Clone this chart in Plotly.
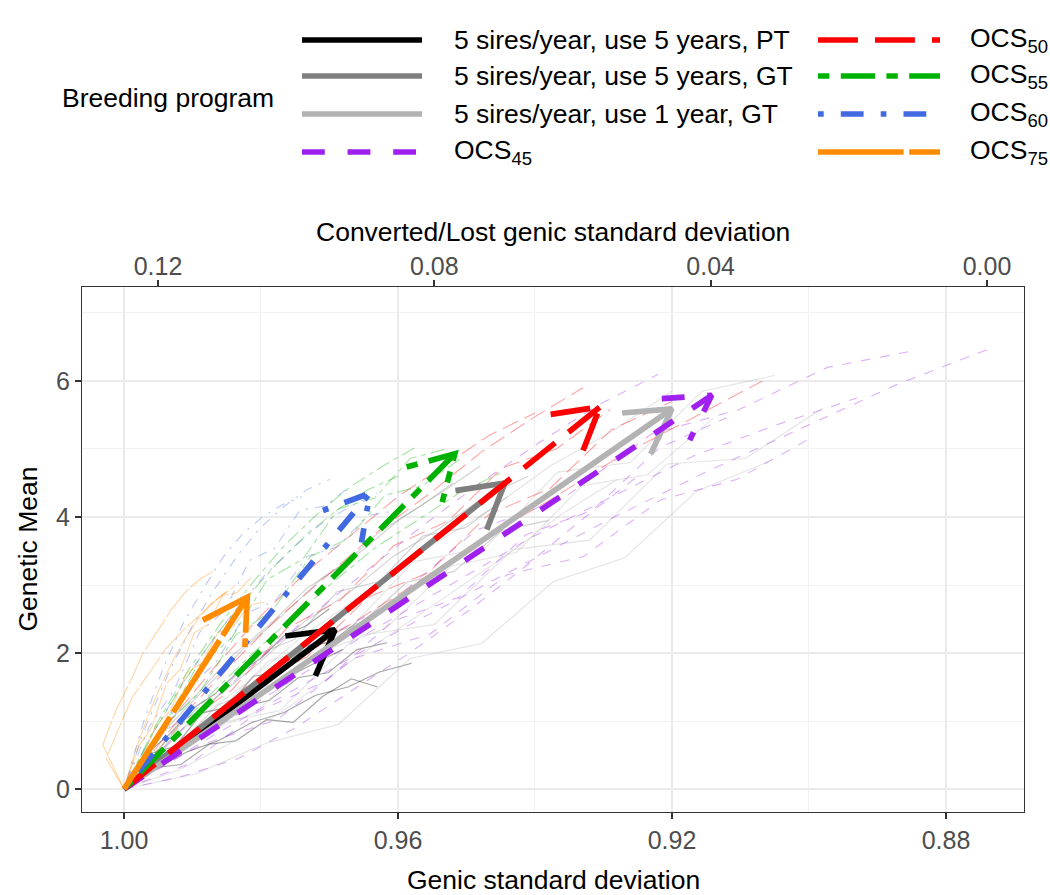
import math
import plotly.graph_objects as go

# ---------------- data ----------------
programs = [
    "5 sires/year, use 5 years, PT",
    "5 sires/year, use 5 years, GT",
    "5 sires/year, use 1 year, GT",
    "OCS<sub>45</sub>",
    "OCS<sub>50</sub>",
    "OCS<sub>55</sub>",
    "OCS<sub>60</sub>",
    "OCS<sub>75</sub>",
]
colors = ["#000000", "#7F7F7F", "#B3B3B3", "#A020F0", "#FF0000", "#00B200", "#4169E1", "#FF8C00"]
linetypes = ["", "", "", "44", "73", "2262", "1343", "F1"]

start_x = 1.0
start_y = 0.0
end_x = [0.9692, 0.9444, 0.9200, 0.9142, 0.9305, 0.9517, 0.9641, 0.9820]
end_y = [2.34, 4.50, 5.59, 5.79, 5.62, 4.93, 4.35, 2.82]

# replicate trajectories (genic sd, genetic mean)
rep_x_PT = [
    [1.0, 0.9958, 0.9917, 0.9875, 0.9836, 0.9792, 0.9753, 0.9710, 0.9668, 0.9630],
    [1.0, 0.9957, 0.9915, 0.9871, 0.9829, 0.9788, 0.9745, 0.9702, 0.9660, 0.9616],
    [1.0, 0.9962, 0.9925, 0.9886, 0.9849, 0.9811, 0.9774, 0.9735, 0.9698, 0.9660],
    [1.0, 0.9967, 0.9934, 0.9900, 0.9867, 0.9834, 0.9800, 0.9767, 0.9734, 0.9700],
    [1.0, 0.9953, 0.9907, 0.9860, 0.9813, 0.9767, 0.9720, 0.9673, 0.9627, 0.9580],
    [1.0, 0.9964, 0.9929, 0.9893, 0.9858, 0.9822, 0.9787, 0.9751, 0.9716, 0.9680],
]
rep_y_PT = [
    [0.0, 0.31, 0.36, 0.66, 0.71, 1.02, 0.98, 1.36, 1.62, 1.50],
    [0.0, 0.33, 0.70, 0.85, 1.21, 1.30, 1.64, 1.71, 2.05, 2.15],
    [0.0, 0.52, 0.63, 1.12, 1.20, 1.66, 1.71, 2.10, 2.16, 2.45],
    [0.0, 0.52, 0.80, 1.18, 1.40, 1.72, 1.92, 2.25, 2.40, 2.65],
    [0.0, 0.30, 0.55, 0.72, 0.98, 1.12, 1.38, 1.50, 1.72, 1.85],
    [0.0, 0.38, 0.58, 0.86, 1.05, 1.32, 1.48, 1.70, 1.88, 2.05],
]
rep_x_GT5 = [
    [1.0, 0.9938, 0.9876, 0.9813, 0.9751, 0.9689, 0.9627, 0.9564, 0.9502, 0.9440],
    [1.0, 0.9942, 0.9884, 0.9827, 0.9769, 0.9711, 0.9653, 0.9596, 0.9538, 0.9480],
    [1.0, 0.9931, 0.9862, 0.9793, 0.9724, 0.9656, 0.9587, 0.9518, 0.9449, 0.9380],
    [1.0, 0.9947, 0.9893, 0.9840, 0.9787, 0.9733, 0.9680, 0.9627, 0.9573, 0.9520],
    [1.0, 0.9934, 0.9869, 0.9803, 0.9738, 0.9672, 0.9607, 0.9541, 0.9476, 0.9410],
]
rep_y_GT5 = [
    [0.0, 0.88, 1.22, 1.95, 2.20, 2.90, 3.05, 3.72, 3.84, 4.30],
    [0.0, 0.85, 1.45, 2.05, 2.55, 3.10, 3.50, 3.98, 4.35, 4.75],
    [0.0, 0.55, 1.24, 1.52, 2.22, 2.42, 3.04, 3.20, 3.80, 3.95],
    [0.0, 0.88, 1.40, 1.98, 2.42, 2.95, 3.30, 3.78, 4.12, 4.50],
    [0.0, 0.70, 1.32, 1.85, 2.45, 2.88, 3.42, 3.82, 4.28, 4.60],
]
rep_x_GT1 = [
    [1.0, 0.9896, 0.9791, 0.9687, 0.9582, 0.9478, 0.9373, 0.9269, 0.9164, 0.9060],
    [1.0, 0.9887, 0.9773, 0.9660, 0.9547, 0.9433, 0.9320, 0.9207, 0.9093, 0.8980],
    [1.0, 0.9894, 0.9789, 0.9683, 0.9578, 0.9472, 0.9367, 0.9261, 0.9156, 0.9050],
    [1.0, 0.9904, 0.9809, 0.9713, 0.9618, 0.9522, 0.9427, 0.9331, 0.9236, 0.9140],
    [1.0, 0.9911, 0.9822, 0.9733, 0.9644, 0.9556, 0.9467, 0.9378, 0.9289, 0.9200],
    [1.0, 0.9920, 0.9840, 0.9760, 0.9680, 0.9600, 0.9520, 0.9440, 0.9360, 0.9280],
]
rep_y_GT1 = [
    [0.0, 0.22, 0.68, 0.95, 1.92, 2.14, 3.05, 3.40, 4.38, 4.81],
    [0.0, 0.92, 1.15, 2.25, 2.42, 3.52, 3.66, 4.78, 4.86, 5.60],
    [0.0, 0.82, 1.88, 2.22, 3.34, 3.55, 4.66, 4.80, 5.85, 6.08],
    [0.0, 0.74, 1.12, 2.02, 2.36, 3.28, 3.48, 4.46, 4.62, 5.45],
    [0.0, 0.90, 1.55, 2.30, 2.90, 3.55, 4.10, 4.75, 5.25, 5.85],
    [0.0, 0.28, 0.70, 1.20, 1.80, 2.35, 2.90, 3.45, 4.05, 4.55],
]
rep_x_OCS45 = [
    [1.0, 0.9872, 0.9743, 0.9615, 0.9487, 0.9358, 0.9230, 0.9102, 0.8973, 0.8845],
    [1.0, 0.9881, 0.9762, 0.9643, 0.9524, 0.9405, 0.9287, 0.9168, 0.9049, 0.8930],
    [1.0, 0.9888, 0.9776, 0.9665, 0.9553, 0.9441, 0.9329, 0.9217, 0.9106, 0.8994],
    [1.0, 0.9859, 0.9718, 0.9577, 0.9436, 0.9294, 0.9153, 0.9012, 0.8871, 0.8730],
    [1.0, 0.9902, 0.9804, 0.9707, 0.9609, 0.9511, 0.9413, 0.9316, 0.9218, 0.9120],
    [1.0, 0.9913, 0.9827, 0.9740, 0.9653, 0.9567, 0.9480, 0.9393, 0.9307, 0.9220],
    [1.0, 0.9917, 0.9833, 0.9750, 0.9667, 0.9583, 0.9500, 0.9417, 0.9333, 0.9250],
]
rep_y_OCS45 = [
    [0.0, 0.95, 2.05, 2.70, 3.80, 4.28, 5.22, 5.58, 6.20, 6.45],
    [0.0, 0.80, 1.55, 2.30, 3.00, 3.70, 4.30, 4.90, 5.35, 5.75],
    [0.0, 0.65, 1.02, 1.92, 2.28, 3.15, 3.42, 4.25, 4.55, 5.18],
    [0.0, 0.85, 1.65, 2.45, 3.20, 3.95, 4.65, 5.30, 5.95, 6.50],
    [0.0, 0.38, 1.14, 1.58, 2.46, 2.82, 3.74, 4.10, 5.02, 5.46],
    [0.0, 0.90, 1.70, 2.45, 3.15, 3.85, 4.50, 5.10, 5.65, 6.10],
    [0.0, 0.18, 0.45, 0.90, 1.45, 2.00, 2.60, 3.25, 3.95, 4.60],
]
rep_x_OCS50 = [
    [1.0, 0.9921, 0.9842, 0.9763, 0.9684, 0.9606, 0.9527, 0.9448, 0.9369, 0.9290],
    [1.0, 0.9926, 0.9851, 0.9777, 0.9702, 0.9628, 0.9553, 0.9479, 0.9404, 0.9330],
    [1.0, 0.9911, 0.9822, 0.9733, 0.9644, 0.9556, 0.9467, 0.9378, 0.9289, 0.9200],
    [1.0, 0.9933, 0.9867, 0.9800, 0.9733, 0.9667, 0.9600, 0.9533, 0.9467, 0.9400],
    [1.0, 0.9896, 0.9793, 0.9689, 0.9585, 0.9482, 0.9378, 0.9275, 0.9171, 0.9068],
]
rep_y_OCS50 = [
    [0.0, 0.92, 1.46, 2.36, 2.78, 3.58, 3.94, 4.72, 5.00, 5.58],
    [0.0, 0.95, 1.75, 2.50, 3.15, 3.80, 4.35, 4.95, 5.45, 5.90],
    [0.0, 0.62, 1.50, 1.94, 2.82, 3.18, 4.04, 4.42, 5.28, 5.70],
    [0.0, 1.00, 1.80, 2.55, 3.20, 3.75, 4.30, 4.75, 5.20, 5.53],
    [0.0, 0.80, 1.55, 2.30, 2.95, 3.65, 4.25, 4.90, 5.45, 6.00],
]
rep_x_OCS55 = [
    [1.0, 0.9953, 0.9906, 0.9858, 0.9811, 0.9764, 0.9717, 0.9669, 0.9622, 0.9575],
    [1.0, 0.9946, 0.9891, 0.9837, 0.9782, 0.9728, 0.9673, 0.9619, 0.9564, 0.9510],
    [1.0, 0.9939, 0.9878, 0.9817, 0.9756, 0.9694, 0.9633, 0.9572, 0.9511, 0.9450],
    [1.0, 0.9948, 0.9896, 0.9843, 0.9791, 0.9739, 0.9687, 0.9634, 0.9582, 0.9530],
    [1.0, 0.9956, 0.9911, 0.9867, 0.9822, 0.9778, 0.9733, 0.9689, 0.9644, 0.9600],
]
rep_y_OCS55 = [
    [0.0, 0.95, 1.75, 2.45, 3.05, 3.60, 4.05, 4.45, 4.75, 5.02],
    [0.0, 0.88, 1.40, 2.26, 2.64, 3.42, 3.68, 4.32, 4.46, 4.85],
    [0.0, 0.70, 1.35, 1.95, 2.50, 3.05, 3.55, 3.95, 4.35, 4.65],
    [0.0, 0.82, 1.76, 2.22, 3.08, 3.38, 4.12, 4.28, 4.86, 5.00],
    [0.0, 0.85, 1.60, 2.25, 2.80, 3.30, 3.75, 4.10, 4.40, 4.60],
]
rep_x_OCS60 = [
    [1.0, 0.9963, 0.9927, 0.9890, 0.9853, 0.9817, 0.9780, 0.9743, 0.9707, 0.9670],
    [1.0, 0.9967, 0.9933, 0.9900, 0.9867, 0.9833, 0.9800, 0.9767, 0.9733, 0.9700],
    [1.0, 0.9956, 0.9911, 0.9867, 0.9822, 0.9778, 0.9733, 0.9689, 0.9644, 0.9600],
    [1.0, 0.9959, 0.9918, 0.9877, 0.9836, 0.9794, 0.9753, 0.9712, 0.9671, 0.9630],
    [1.0, 0.9971, 0.9942, 0.9913, 0.9884, 0.9856, 0.9827, 0.9798, 0.9769, 0.9740],
]
rep_y_OCS60 = [
    [0.0, 0.92, 1.45, 2.30, 2.62, 3.36, 3.54, 4.10, 4.16, 4.45],
    [0.0, 0.95, 1.75, 2.40, 2.95, 3.45, 3.85, 4.15, 4.40, 4.55],
    [0.0, 0.62, 1.46, 1.84, 2.58, 2.78, 3.42, 3.56, 4.02, 4.10],
    [0.0, 0.80, 1.50, 2.10, 2.65, 3.15, 3.55, 3.90, 4.15, 4.35],
    [0.0, 1.00, 1.80, 2.45, 2.95, 3.40, 3.75, 4.00, 4.18, 4.30],
]
rep_x_OCS75 = [
    [1.0, 0.9979, 0.9959, 0.9938, 0.9918, 0.9897, 0.9877, 0.9856, 0.9836, 0.9815],
    [1.0, 1.0026, 1.0005, 0.9988, 0.9960, 0.9940, 0.9912, 0.9890, 0.9870, 0.9850],
    [1.0, 0.9977, 0.9954, 0.9932, 0.9909, 0.9886, 0.9863, 0.9841, 0.9818, 0.9795],
    [1.0, 1.0031, 1.0012, 0.9990, 0.9972, 0.9950, 0.9930, 0.9910, 0.9890, 0.9870],
    [1.0, 0.9982, 0.9964, 0.9946, 0.9928, 0.9910, 0.9892, 0.9874, 0.9856, 0.9838],
]
rep_y_OCS75 = [
    [0.0, 0.62, 0.92, 1.55, 1.76, 2.30, 2.42, 2.85, 2.88, 3.10],
    [0.0, 0.45, 0.95, 1.35, 1.75, 2.05, 2.35, 2.55, 2.75, 2.90],
    [0.0, 0.38, 0.92, 1.16, 1.70, 1.86, 2.30, 2.38, 2.70, 2.75],
    [0.0, 0.65, 1.15, 1.60, 2.00, 2.35, 2.65, 2.90, 3.08, 3.20],
    [0.0, 0.60, 1.10, 1.52, 1.90, 2.22, 2.50, 2.70, 2.86, 2.98],
]
rep_x = [rep_x_PT, rep_x_GT5, rep_x_GT1, rep_x_OCS45, rep_x_OCS50, rep_x_OCS55, rep_x_OCS60, rep_x_OCS75]
rep_y = [rep_y_PT, rep_y_GT5, rep_y_GT1, rep_y_OCS45, rep_y_OCS50, rep_y_OCS55, rep_y_OCS60, rep_y_OCS75]

x_ticks = [1.00, 0.96, 0.92, 0.88]
x_tick_labels = ["1.00", "0.96", "0.92", "0.88"]
x2_ticks = [0.12, 0.08, 0.04, 0.00]
x2_tick_labels = ["0.12", "0.08", "0.04", "0.00"]
y_ticks = [0, 2, 4, 6]
y_tick_labels = ["0", "2", "4", "6"]

# ---------------- layout geometry ----------------
W, H = 1050, 895
L, R, T, B = 82, 26, 287, 83
PW, PH = W - L - R, H - T - B
X_RANGE = [1.00613, 0.86861]
X2_RANGE = [0.1310, -0.00536]
Y_RANGE = [-0.338, 7.382]
FONT = "Liberation Sans, Arial, Helvetica, sans-serif"
LW = 5.7
THIN = 1.1
TXT = 26.5


def dash(pattern, unit):
    if not pattern:
        return "solid"
    return ",".join(f"{int(c, 16) * unit:.1f}px" for c in pattern)


def to_px(x, y):
    px = L + (X_RANGE[0] - x) / (X_RANGE[0] - X_RANGE[1]) * PW
    py = T + (Y_RANGE[1] - y) / (Y_RANGE[1] - Y_RANGE[0]) * PH
    return px, py


def from_px(px, py):
    x = X_RANGE[0] - (px - L) / PW * (X_RANGE[0] - X_RANGE[1])
    y = Y_RANGE[1] - (py - T) / PH * (Y_RANGE[1] - Y_RANGE[0])
    return x, y


def px_paper(px, py):
    return (px - L) / PW, (H - B - py) / PH


fig = go.Figure()

# replicate trajectories
for i in range(len(programs)):
    for xs, ys in zip(rep_x[i], rep_y[i]):
        fig.add_trace(go.Scatter(
            x=xs, y=ys, mode="lines", showlegend=False, hoverinfo="skip",
            opacity=0.35,
            line=dict(color=colors[i], width=THIN, dash=dash(linetypes[i], 2.4)),
        ))

# mean arrows
HEAD = 50.0
ANG = math.radians(30)
for i in range(len(programs)):
    d = dash(linetypes[i], LW)
    fig.add_trace(go.Scatter(
        x=[start_x, end_x[i]], y=[start_y, end_y[i]], mode="lines",
        showlegend=False, hoverinfo="skip",
        line=dict(color=colors[i], width=LW, dash=d),
    ))
    tx, ty = to_px(end_x[i], end_y[i])
    ox, oy = to_px(start_x, start_y)
    ux, uy = ox - tx, oy - ty
    n = math.hypot(ux, uy)
    ux, uy = ux / n, uy / n
    arms = []
    for a in (ANG, -ANG):
        rx = ux * math.cos(a) - uy * math.sin(a)
        ry = ux * math.sin(a) + uy * math.cos(a)
        arms.append((tx + HEAD * rx, ty + HEAD * ry))
    arms.sort(key=lambda p: p[1])
    a1 = from_px(*arms[0])
    a2 = from_px(*arms[1])
    fig.add_trace(go.Scatter(
        x=[a1[0], end_x[i], a2[0]], y=[a1[1], end_y[i], a2[1]], mode="lines",
        showlegend=False, hoverinfo="skip",
        line=dict(color=colors[i], width=LW, dash=d),
    ))

# dummy trace for top axis
fig.add_trace(go.Scatter(x=[None], y=[None], xaxis="x2", showlegend=False, hoverinfo="skip"))

# ---------------- legend (drawn manually) ----------------
shapes = []
annotations = []
row_y = [40, 76, 114, 152]
col_line = [(302, 422), (818, 940)]
col_text = [452, 968]
for i, name in enumerate(programs):
    col = 0 if i < 4 else 1
    r = i if i < 4 else i - 4
    x0, y0 = px_paper(col_line[col][0], row_y[r])
    x1, _ = px_paper(col_line[col][1], row_y[r])
    shapes.append(dict(type="line", xref="paper", yref="paper", x0=x0, x1=x1, y0=y0, y1=y0,
                       line=dict(color=colors[i], width=LW, dash=dash(linetypes[i], LW))))
    tx, ty = px_paper(col_text[col], row_y[r])
    annotations.append(dict(text=name, xref="paper", yref="paper", x=tx, y=ty,
                            xanchor="left", yanchor="middle", showarrow=False,
                            font=dict(size=TXT, color="black", family=FONT)))
tx, ty = px_paper(60, 98)
annotations.append(dict(text="Breeding program", xref="paper", yref="paper", x=tx, y=ty,
                        xanchor="left", yanchor="middle", showarrow=False,
                        font=dict(size=TXT, color="black", family=FONT)))

# axis titles
tx, ty = px_paper(553, 880)
annotations.append(dict(text="Genic standard deviation", xref="paper", yref="paper", x=0.5, y=ty,
                        xanchor="center", yanchor="middle", showarrow=False,
                        font=dict(size=TXT, color="black", family=FONT)))
tx, ty = px_paper(553, 232)
annotations.append(dict(text="Converted/Lost genic standard deviation", xref="paper", yref="paper",
                        x=0.5, y=ty, xanchor="center", yanchor="middle", showarrow=False,
                        font=dict(size=TXT, color="black", family=FONT)))
tx, ty = px_paper(27, 549)
annotations.append(dict(text="Genetic Mean", xref="paper", yref="paper", x=tx, y=0.5,
                        xanchor="center", yanchor="middle", textangle=-90, showarrow=False,
                        font=dict(size=TXT, color="black", family=FONT)))

tickfont = dict(size=25, color="#4D4D4D", family=FONT)
fig.update_layout(
    width=W, height=H, autosize=False,
    margin=dict(l=L, r=R, t=T, b=B, pad=0),
    paper_bgcolor="white", plot_bgcolor="white",
    showlegend=False,
    shapes=shapes, annotations=annotations,
    xaxis=dict(
        range=X_RANGE, tickvals=x_ticks, ticktext=x_tick_labels, tickfont=tickfont,
        ticks="outside", ticklen=6, tickwidth=1.5, tickcolor="#333333",
        showgrid=True, gridcolor="#EBEBEB", gridwidth=2,
        minor=dict(dtick=0.02, tick0=1.0, showgrid=True, gridcolor="#F2F2F2", gridwidth=1, ticks=""),
        showline=True, linecolor="#333333", linewidth=1.2, mirror=True, zeroline=False,
    ),
    xaxis2=dict(
        overlaying="x", side="top", range=X2_RANGE, tickvals=x2_ticks, ticktext=x2_tick_labels,
        tickfont=tickfont, ticks="outside", ticklen=6, tickwidth=1.5, tickcolor="#333333",
        ticklabelstandoff=-5,
        showgrid=False, zeroline=False, showline=False,
    ),
    yaxis=dict(
        range=Y_RANGE, tickvals=y_ticks, ticktext=y_tick_labels, tickfont=tickfont,
        ticks="outside", ticklen=6, tickwidth=1.5, tickcolor="#333333",
        showgrid=True, gridcolor="#EBEBEB", gridwidth=2,
        minor=dict(dtick=1, tick0=0, showgrid=True, gridcolor="#F2F2F2", gridwidth=1, ticks=""),
        showline=True, linecolor="#333333", linewidth=1.2, mirror=True, zeroline=False,
    ),
)

fig.write_html("out.html")
